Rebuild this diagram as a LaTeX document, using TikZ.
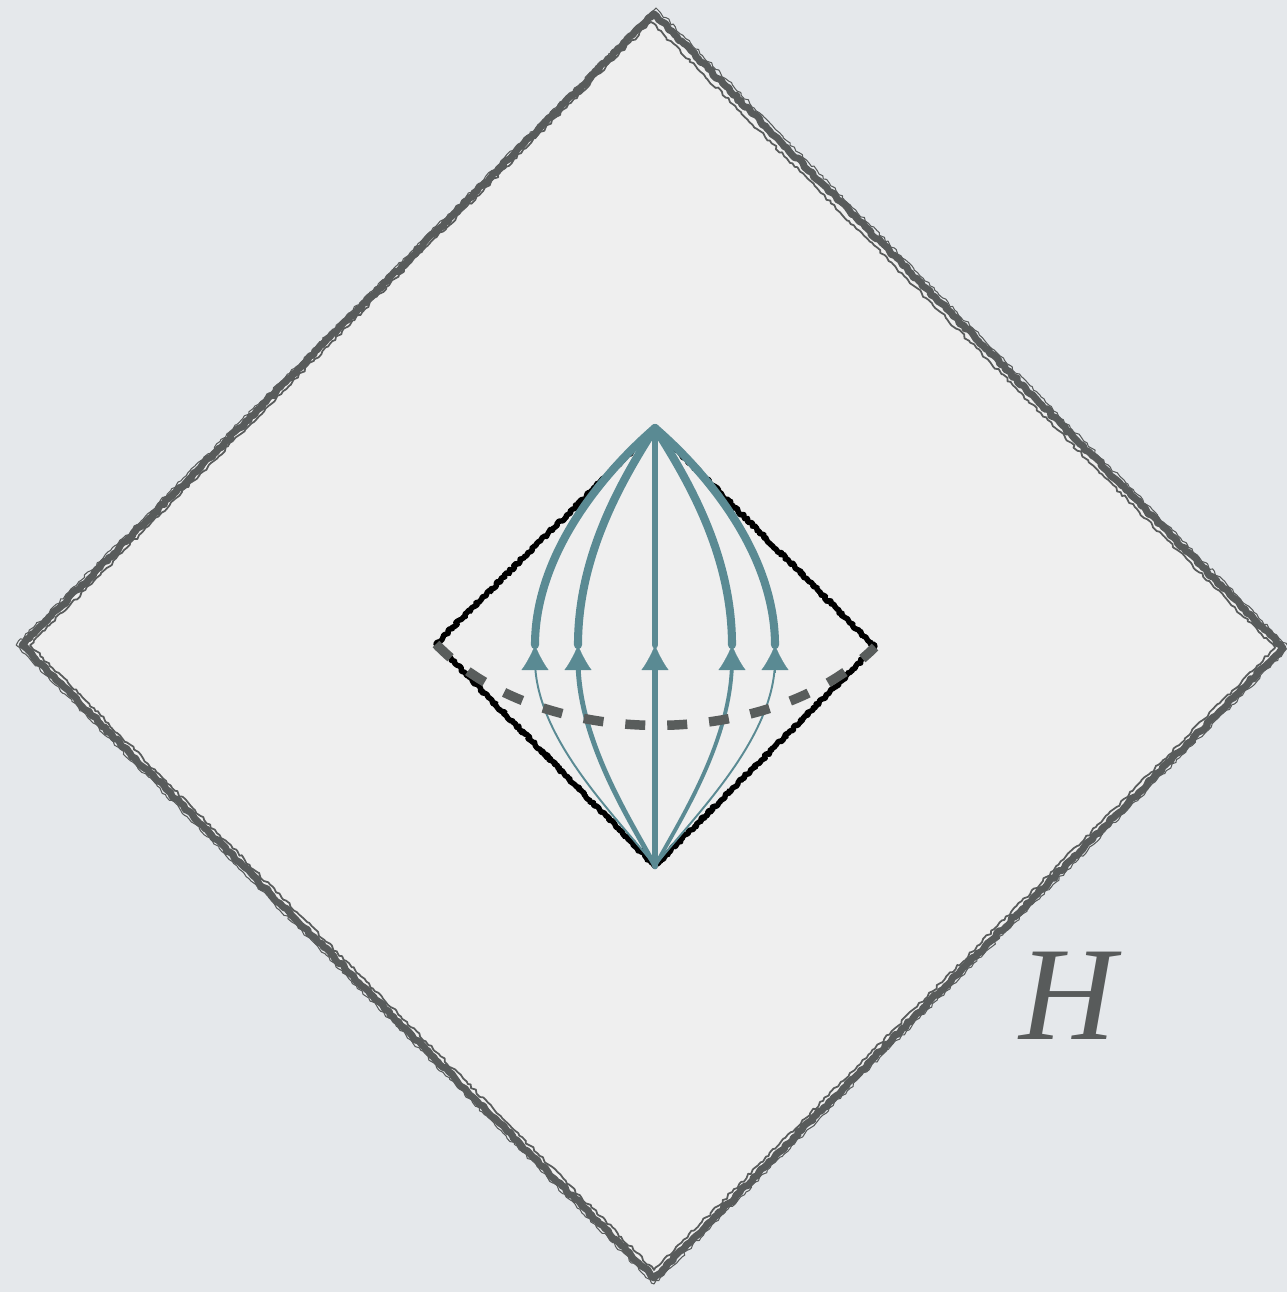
\documentclass[tikz,border=0pt]{standalone}
\usepackage{fontspec}
\setmainfont{Liberation Serif}
\usetikzlibrary{arrows.meta,decorations.pathmorphing}
\definecolor{bggray}{HTML}{E5E8EB}
\definecolor{fillgray}{HTML}{EFEFEF}
\definecolor{edgegray}{HTML}{585B5B}
\definecolor{flowteal}{HTML}{5A8A93}
\definecolor{slicegray}{HTML}{595D5C}
\begin{document}
\begin{tikzpicture}[x=0.02cm,y=-0.02cm,
  sketch/.style={decorate, line join=round, decoration={random steps, segment length=2pt, amplitude=0.8pt}},
  flowthin/.style={flowteal, line width=#1, line cap=round},
  flowhead/.style={-{Latex[length=0.5cm, width=0.54cm]}, flowteal},
  slice/.style={slicegray, line width=5.4pt, dash pattern=on 0.4cm off 0.44cm}]
\pgfmathsetseed{7}
\useasboundingbox (0,0) rectangle (1287,1292);
\fill[bggray] (0,0) rectangle (1287,1292);
\coordinate (Otop) at (654,14);
\coordinate (Oleft) at (22,645);
\coordinate (Oright) at (1283,648);
\coordinate (Obot) at (654,1278);
\fill[fillgray] (Otop) -- (Oright) -- (Obot) -- (Oleft) -- cycle;
\draw[sketch, edgegray, line width=4pt] (Otop) -- (Oright) -- (Obot) -- (Oleft) -- cycle;
\draw[sketch, edgegray, line width=1pt] ([shift={(-3,8)}]Otop) -- ([shift={(-8,0)}]Oright) -- ([shift={(0,-8)}]Obot) -- ([shift={(8,0)}]Oleft) -- cycle;
\draw[sketch, edgegray, line width=0.6pt] ([shift={(2,-6)}]Otop) -- ([shift={(6,0)}]Oright) -- ([shift={(0,6)}]Obot) -- ([shift={(-6,0)}]Oleft) -- cycle;
\coordinate (top) at (655,428);
\coordinate (left) at (436,644);
\coordinate (right) at (875,647);
\coordinate (bot) at (655,866);
\draw[sketch, black, line width=3.1pt, decoration={random steps, segment length=1pt, amplitude=0.8pt}] (top) -- (right) -- (bot) -- (left) -- cycle;
\coordinate (a1) at (535,645);
\coordinate (a2) at (578,645);
\coordinate (a3) at (655,645);
\coordinate (a4) at (732,645);
\coordinate (a5) at (775,645);
\draw[flowthin=1.1pt] (bot) .. controls (620,820) and (535,740) .. (535,660);
\draw[flowthin=2.8pt] (bot) .. controls (630,820) and (578,740) .. (578,660);
\draw[flowthin=3.8pt] (bot) -- (655,660);
\draw[flowthin=2.2pt] (bot) .. controls (680,820) and (732,740) .. (732,660);
\draw[flowthin=1.1pt] (bot) .. controls (690,820) and (775,740) .. (775,660);
\draw[flowthin=4.6pt] (a1) .. controls (535,560) and (595,480) .. (top);
\draw[flowthin=4.6pt] (a2) .. controls (578,555) and (622,480) .. (top);
\draw[flowthin=3.8pt] (a3) -- (top);
\draw[flowthin=4.6pt] (a4) .. controls (732,555) and (688,480) .. (top);
\draw[flowthin=4.6pt] (a5) .. controls (775,560) and (715,480) .. (top);
\foreach \p in {a1,a2,a3,a4,a5}
  \draw[flowhead, line width=0.1pt] ([yshift=-16pt]\p) -- (\p);
\draw[slice] (left) .. controls (540,752) and (770,752) .. (right);
\node[text=edgegray, font=\fontsize{76}{76}\selectfont\itshape] (hlabel) at (1068,996) {H};
\end{tikzpicture}
\end{document}
